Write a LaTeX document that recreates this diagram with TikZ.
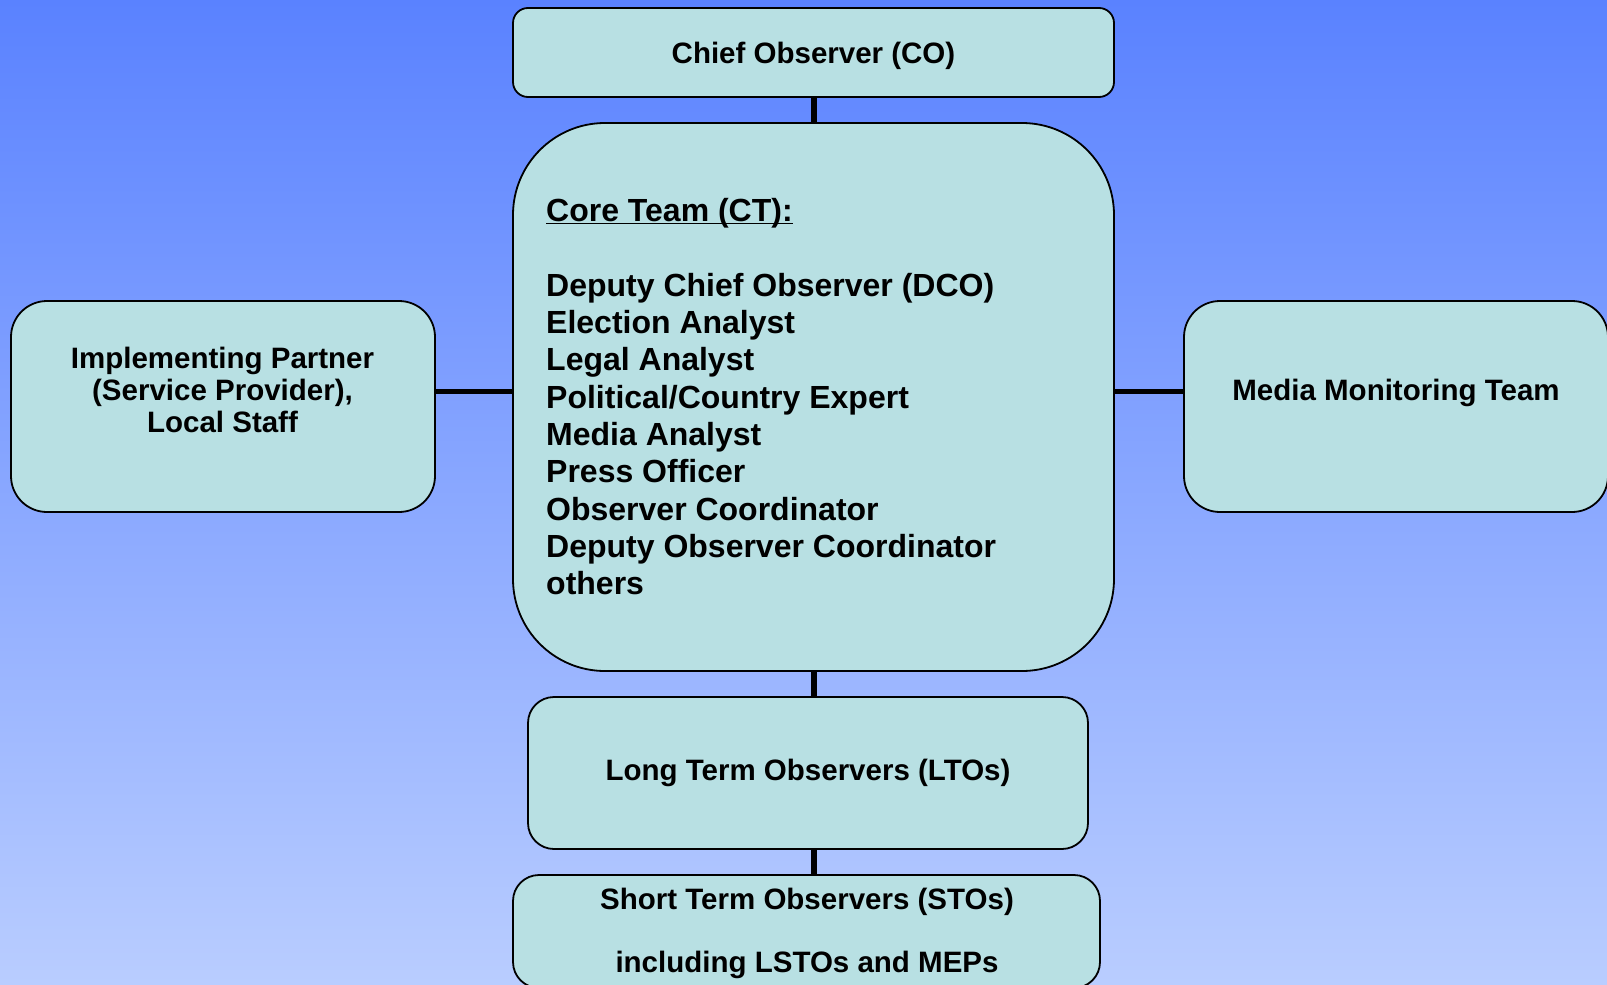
\documentclass[tikz,border=0pt]{standalone}
\usepackage{fontspec}
\setmainfont{Liberation Sans}
\definecolor{bgtop}{RGB}{90,130,255}
\definecolor{bgbot}{RGB}{185,205,255}
\definecolor{boxfill}{RGB}{184,224,227}
\begin{document}
\begin{tikzpicture}[x=1pt,y=-1pt,
  box/.style={draw=black, line width=1.8pt, fill=boxfill, inner sep=0pt},
  conn/.style={line width=5.5pt, draw=black},
  lbl/.style={font=\bfseries\fontsize{29.5}{31.8}\selectfont, inner sep=0pt, align=center},
  corelbl/.style={font=\bfseries\fontsize{32}{37.3}\selectfont, inner sep=0pt, align=left}]
\useasboundingbox (0,0) rectangle (1607,985);
\shade[top color=bgtop, bottom color=bgbot] (0,0) rectangle (1607,985);
\clip (0,0) rectangle (1607,985);

% boxes
\node[box, lbl, text depth=0pt, rounded corners=15pt, minimum width=601pt, minimum height=89pt] (co) at (813.5,52.5) {Chief Observer (CO)};
\node[box, rounded corners=92pt, minimum width=601pt, minimum height=548pt] (core) at (813.5,397) {};
\node[box, rounded corners=36pt, minimum width=424pt, minimum height=211pt] (left) at (223,406.5) {};
\node[box, rounded corners=36pt, minimum width=424pt, minimum height=211pt] (right) at (1396,406.5) {};
\node[box, lbl, rounded corners=26pt, minimum width=560pt, minimum height=152pt] (lto) at (808,773) {Long Term Observers (LTOs)};
\node[box, rounded corners=26pt, minimum width=587pt, minimum height=113pt] (sto) at (806.5,931.5) {};

% texts
\node[corelbl, anchor=north west] (coretext) at (546,221.5) {\underline{\smash{Core Team (CT):}}\\[37.3pt]
Deputy Chief Observer (DCO)\\
Election Analyst\\
Legal Analyst\\
Political/Country Expert\\
Media Analyst\\
Press Officer\\
Observer Coordinator\\
Deputy Observer Coordinator\\
others};
\node[lbl, anchor=north] (lefttext) at (222.5,347) {Implementing Partner\\(Service Provider),\\Local Staff};
\node[lbl] (righttext) at (1396,392.5) {Media Monitoring Team};
\node[lbl, anchor=north, font=\bfseries\fontsize{29.5}{63}\selectfont] (stotext) at (807,888) {Short Term Observers (STOs)\\including LSTOs and MEPs};

% connectors
\coordinate (vx) at (814,0);
\coordinate (hy) at (0,391.5);
\draw[conn] (co.south -| vx) -- (core.north -| vx);
\draw[conn] (core.south -| vx) -- (lto.north -| vx);
\draw[conn] (lto.south -| vx) -- (sto.north -| vx);
\draw[conn] (left.east |- hy) -- (core.west |- hy);
\draw[conn] (core.east |- hy) -- (right.west |- hy);
\end{tikzpicture}
\end{document}
